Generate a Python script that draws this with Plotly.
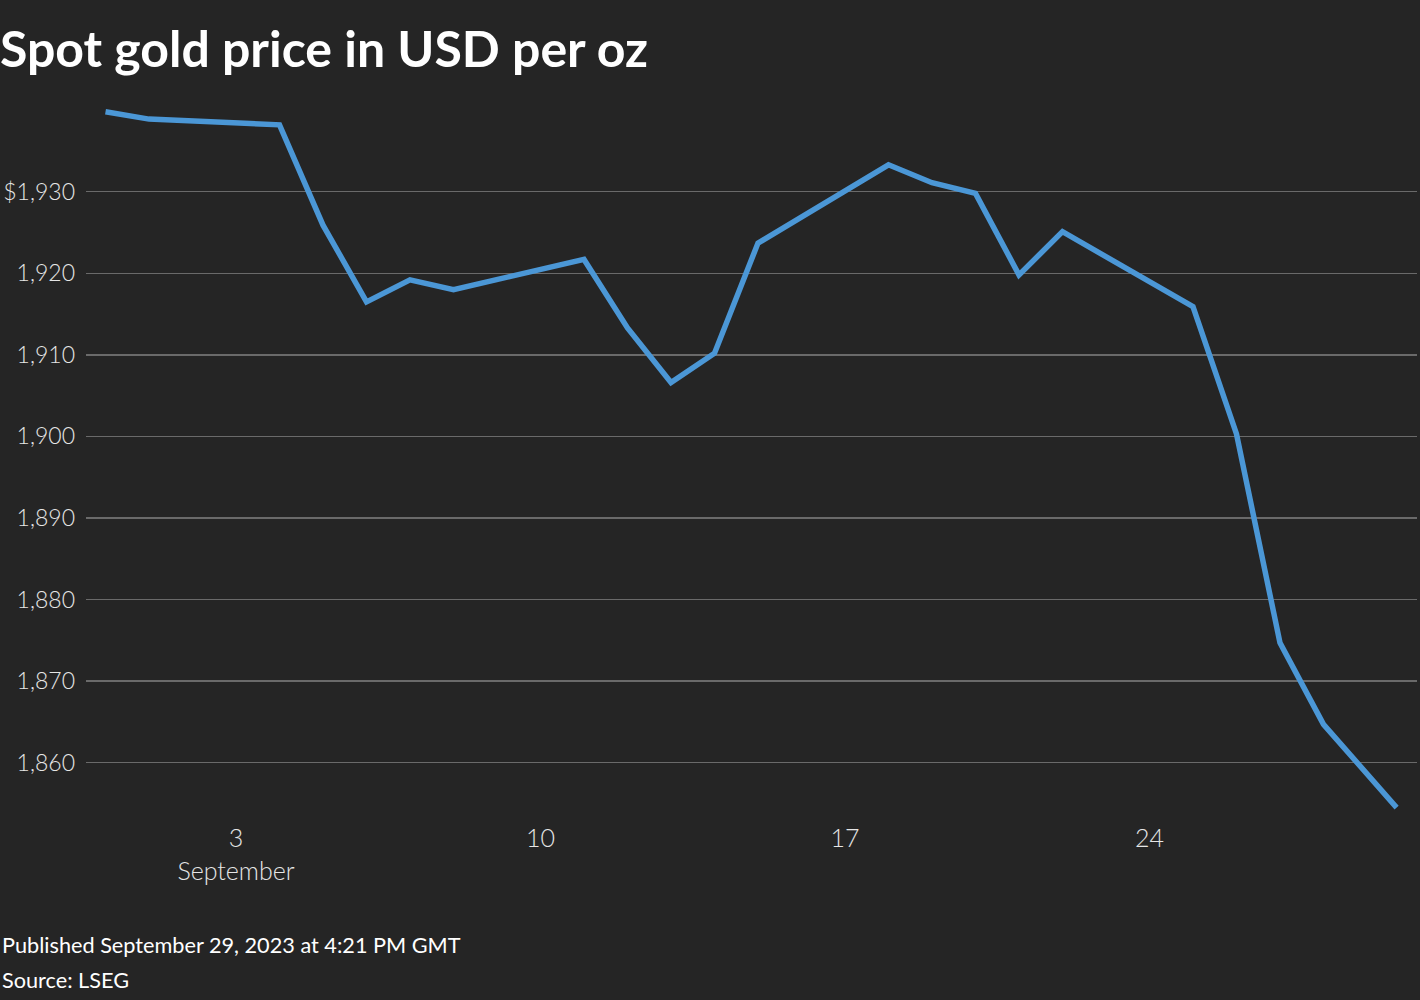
import plotly.graph_objects as go

# ---- data ----
dates = [
    "2023-08-31", "2023-09-01", "2023-09-04", "2023-09-05", "2023-09-06",
    "2023-09-07", "2023-09-08", "2023-09-11", "2023-09-12", "2023-09-13",
    "2023-09-14", "2023-09-15", "2023-09-18", "2023-09-19", "2023-09-20",
    "2023-09-21", "2023-09-22", "2023-09-25", "2023-09-26", "2023-09-27",
    "2023-09-28", "2023-09-29 16:21",
]
prices = [
    1939.8, 1938.9, 1938.2, 1925.9, 1916.5,
    1919.2, 1918.0, 1921.7, 1913.3, 1906.6,
    1910.2, 1923.7, 1933.3, 1931.1, 1929.8,
    1919.8, 1925.1, 1915.9, 1900.3, 1874.7,
    1864.7, 1854.5,
]
x_tick_vals = ["2023-09-03", "2023-09-10", "2023-09-17", "2023-09-24"]
x_tick_text = ["3<br>September", "10", "17", "24"]
y_tick_vals = [1860, 1870, 1880, 1890, 1900, 1910, 1920, 1930]
y_tick_text = ["1,860", "1,870", "1,880", "1,890", "1,900", "1,910", "1,920", "$1,930"]

title_text = "<b>Spot gold price in USD per oz</b>"
footer_1 = "Published September 29, 2023 at 4:21 PM GMT"
footer_2 = "Source: LSEG"

BG = "#252525"
LINE = "#4b97d6"
GRID = "#6a6a6a"
TEXT = "#e6e6e6"
FONT = "Lato"

fig = go.Figure()
fig.add_trace(go.Scatter(
    x=dates, y=prices, mode="lines",
    line=dict(color=LINE, width=5.5, shape="linear"),
    hoverinfo="skip", showlegend=False,
))

fig.update_layout(
    width=1420, height=1000,
    paper_bgcolor=BG, plot_bgcolor=BG,
    margin=dict(l=86, r=3, t=95, b=185, autoexpand=False),
    font=dict(family=FONT, color=TEXT),
    title=dict(
        text=title_text, x=0.0, xref="container", xanchor="left",
        y=0.951, yref="container", yanchor="middle",
        font=dict(family=FONT, size=50, color="#ffffff"),
        pad=dict(l=0),
    ),
    xaxis=dict(
        range=["2023-08-30 13:14", "2023-09-30 03:36"],
        tickvals=x_tick_vals, ticktext=x_tick_text,
        showgrid=False, zeroline=False, showline=False, automargin=False,
        ticks="", ticklabelstandoff=6,
        tickfont=dict(family=FONT, size=25, color=TEXT, weight=300),
    ),
    yaxis=dict(
        range=[1853.59, 1941.855],
        tickvals=y_tick_vals, ticktext=y_tick_text,
        showgrid=True, gridcolor=GRID, gridwidth=1.5,
        zeroline=False, showline=False, automargin=False,
        ticks="", ticklabelstandoff=10,
        tickfont=dict(family=FONT, size=23, color=TEXT, weight=300),
    ),
    annotations=[
        dict(text=footer_1, xref="paper", yref="paper", x=0, y=-0.1806,
             xanchor="left", yanchor="middle", xshift=-86, showarrow=False,
             font=dict(family=FONT, size=21.7, color="#ffffff")),
        dict(text=footer_2, xref="paper", yref="paper", x=0, y=-0.229,
             xanchor="left", yanchor="middle", xshift=-86, showarrow=False,
             font=dict(family=FONT, size=21.7, color="#ffffff")),
    ],
)

fig.write_html(
    "out.html",
    config={"displayModeBar": False, "staticPlot": True},
    post_script="document.body.style.margin='0';document.body.style.background='#252525';",
)
